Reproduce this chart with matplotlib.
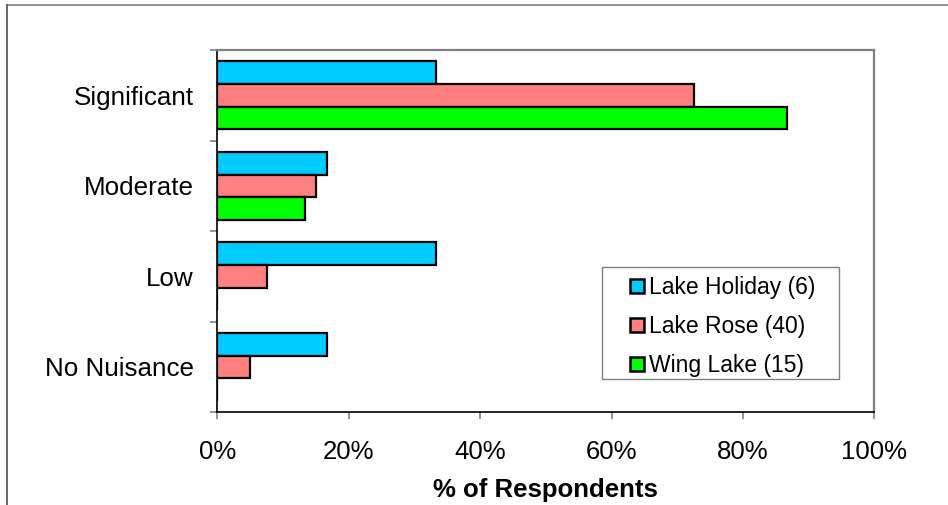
import matplotlib
matplotlib.use('Agg')
import matplotlib.pyplot as plt
from matplotlib.lines import Line2D
from matplotlib.patches import Rectangle
from matplotlib.ticker import FixedLocator, PercentFormatter
import numpy as np

plt.rcParams['font.family'] = ['Liberation Sans', 'DejaVu Sans']

# nuisance level, top to bottom
categories = ['Significant', 'Moderate', 'Low', 'No Nuisance']
lakes = ['Lake Holiday (6)', 'Lake Rose (40)', 'Wing Lake (15)']
holiday = [33.3, 16.7, 33.3, 16.7]
rose = [72.5, 15.0, 7.5, 5.0]
wing = [86.7, 13.3, 0.0, 0.0]
colors = ['#00CCFF', '#FF8080', '#00FF00']

W, H = 948, 505
fig = plt.figure(figsize=(W / 100, H / 100), dpi=100)
ax = fig.add_axes([0.2292, 0.1836, 0.6931, 0.7174])

y = np.arange(len(categories))
h = 0.25
for i, (vals, lab, col) in enumerate(zip([holiday, rose, wing], lakes, colors)):
    ax.barh(y + (i - 1) * h, vals, height=h, color=col, edgecolor='black',
            linewidth=1.6, label=lab, zorder=3)

ax.set_ylim(3.5, -0.5)
ax.set_xlim(0, 100)

# ticks on category boundaries, labels centred between them
ax.yaxis.set_major_locator(FixedLocator(np.arange(-0.5, 4, 1)))
ax.yaxis.set_major_formatter(plt.NullFormatter())
ax.yaxis.set_minor_locator(FixedLocator(y))
ax.set_yticklabels(categories, minor=True)
ax.tick_params(axis='y', which='major', length=5, width=1.2, color='#808080')
ax.tick_params(axis='y', which='minor', length=0, pad=17, labelsize=18.7)

ax.set_xticks(np.arange(0, 101, 20))
ax.xaxis.set_major_formatter(PercentFormatter(decimals=0))
ax.tick_params(axis='x', length=5, width=1.2, color='#808080', pad=15, labelsize=18.5)
ax.set_xlabel('% of Respondents', fontsize=18.5, fontweight='bold', labelpad=10)

for s in ['left', 'bottom']:
    ax.spines[s].set_color('black')
    ax.spines[s].set_linewidth(1.2)
for s in ['top', 'right']:
    ax.spines[s].set_color('#808080')
    ax.spines[s].set_linewidth(1.6)

leg = ax.legend(loc='upper left', bbox_to_anchor=(630 / W, 1 - 276 / H),
                bbox_transform=fig.transFigure, fontsize=16.5, frameon=False,
                borderaxespad=0, borderpad=0, handlelength=0.6,
                handleheight=0.6, handletextpad=0.25, labelspacing=0.7)
for p in leg.get_patches():
    p.set_linewidth(1.8)
# legend box
fig.add_artist(Rectangle((602 / W, 1 - 379 / H), 237 / W, 112 / H,
                         transform=fig.transFigure, fill=False,
                         edgecolor='#808080', linewidth=1.0))

# outer chart border
fig.add_artist(Line2D([7 / W, 1], [1 - 5 / H, 1 - 5 / H],
                      transform=fig.transFigure, color='#808080', linewidth=1.2))
fig.add_artist(Line2D([7 / W, 7 / W], [0, 1 - 5 / H],
                      transform=fig.transFigure, color='#505050', linewidth=1.2))

fig.savefig('out.png', dpi=100)
